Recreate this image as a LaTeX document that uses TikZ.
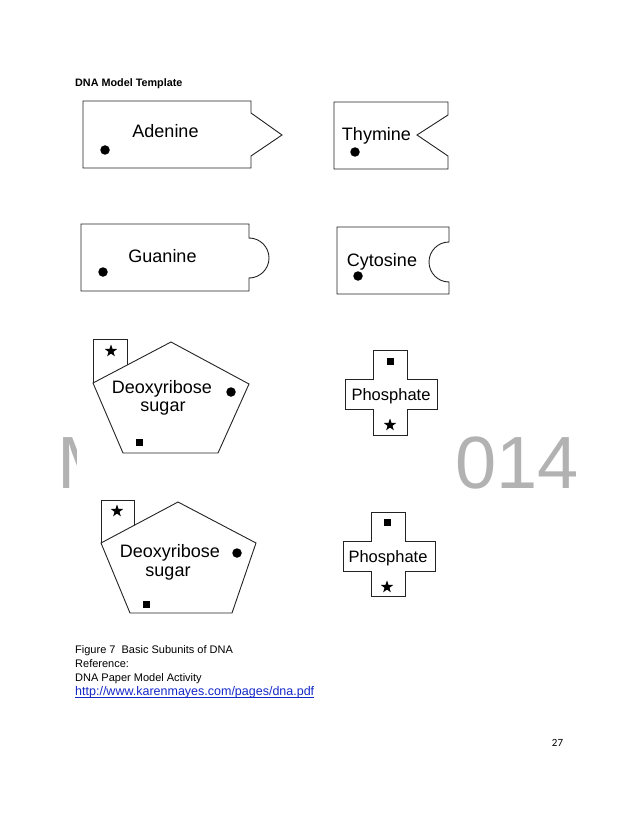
\documentclass[tikz,border=0pt]{standalone}
\usepackage{fontspec}
\setmainfont{Liberation Sans}
\newfontfamily\pagenumfont{Carlito}
\usepackage{tikz}
\usetikzlibrary{shapes.geometric}
\definecolor{outline}{RGB}{35,35,35}
\definecolor{linkblue}{RGB}{20,40,200}
\tikzset{
    template/.style={draw=outline, line width=0.9pt, line join=miter},
    base label/.style={font=\fontsize{18}{18}\selectfont, inner sep=0pt, anchor=base},
    small label/.style={font=\fontsize{16.5}{16.5}\selectfont, inner sep=0pt, anchor=base},
    caption line/.style={font=\fontsize{11}{13}\selectfont, inner sep=0pt, anchor=base west},
    watermark/.style={font=\fontsize{74}{74}\selectfont, text=black!30, inner sep=0pt, anchor=base west},
    dotmark/.style={circle, fill=black, inner sep=0pt, minimum size=9.5pt},
    boxmark/.style={rectangle, fill=black, inner sep=0pt, minimum size=7pt},
    starmark/.style={star, star points=5, star point ratio=2.5, fill=black, inner sep=0pt, minimum size=13pt}
}

\begin{document}
\begin{tikzpicture}[x=1pt, y=-1pt]
\path[use as bounding box, fill=white] (0,0) rectangle (638,826);
% watermark, mostly covered
\begin{scope}
\clip (0,400) rectangle (76,500);
\node[watermark] (wmM) at (57.5,488) {M};
\end{scope}
\node[watermark] (wm014) at (455,488) {014};
% heading
\node[font=\bfseries\fontsize{10.8}{13}\selectfont, inner sep=0pt, anchor=base west] (title) at (75,87) {DNA Model Template};
% adenine
\draw[template] (83,101) -- (251,101) -- (251,113) -- (282,135) -- (251,156) -- (251,168) -- (83,168) -- cycle;
\node[base label] (adenine) at (165.5,138) {Adenine};
\node[dotmark] (adenineDot) at (105,150) {};
% thymine
\draw[template] (334,102) -- (448,102) -- (448,115) -- (417,135) -- (448,156) -- (448,169) -- (334,169) -- cycle;
\node[base label] (thymine) at (376.5,141) {Thymine};
\node[dotmark] (thymineDot) at (355,152) {};
% guanine
\draw[template] (81,224) -- (249,224) -- (249,238) arc[start angle=90, end angle=-90, radius=20pt] -- (249,291) -- (81,291) -- cycle;
\node[base label] (guanine) at (162.5,262) {Guanine};
\node[dotmark] (guanineDot) at (103,272) {};
% cytosine
\draw[template] (337,227) -- (449,227) -- (449,242) arc[start angle=90, end angle=270, radius=20pt] -- (449,294) -- (337,294) -- cycle;
\node[base label] (cytosine) at (382,266) {Cytosine};
\node[dotmark] (cytosineDot) at (358,276) {};
% sugar 1
\draw[template] (171,342) -- (249,384) -- (218,453) -- (123,453) -- (93,383) -- cycle;
\draw[template] (93,383) -- (93,339) -- (127,339) -- (127,365);
\node[starmark] (sugarAStar) at (111,351) {};
\node[base label] (sugarAName) at (162,393.5) {Deoxyribose};
\node[base label] (sugarAWord) at (163,411.5) {sugar};
\node[dotmark] (sugarADot) at (231,392) {};
\node[boxmark] (sugarABox) at (139,442) {};
% sugar 2
\draw[template] (178,502) -- (256,543) -- (232,613) -- (130,613) -- (101,543) -- cycle;
\draw[template] (101,543) -- (101,500) -- (134,500) -- (134,525.4);
\node[starmark] (sugarBStar) at (117,511) {};
\node[base label] (sugarBName) at (170,557) {Deoxyribose};
\node[base label] (sugarBWord) at (168,576) {sugar};
\node[dotmark] (sugarBDot) at (237,553) {};
\node[boxmark] (sugarBBox) at (146,604) {};
% phosphate 1
\draw[template] (373,350) -- (407,350) -- (407,379) -- (437,379) -- (437,409) -- (407,409) -- (407,435) -- (373,435) -- (373,409) -- (345,409) -- (345,379) -- (373,379) -- cycle;
\node[boxmark] (phosABox) at (390,361) {};
\node[small label] (phosAName) at (391,400) {Phosphate};
\node[starmark] (phosAStar) at (390,425) {};
% phosphate 2
\draw[template] (371,512) -- (405,512) -- (405,541) -- (435,541) -- (435,571) -- (405,571) -- (405,596) -- (371,596) -- (371,571) -- (343,571) -- (343,541) -- (371,541) -- cycle;
\node[boxmark] (phosBBox) at (387,522) {};
\node[small label] (phosBName) at (388,562) {Phosphate};
\node[starmark] (phosBStar) at (387,587) {};
% caption and reference
\node[caption line] (figcap) at (75,653) {Figure 7\ \ Basic Subunits of DNA};
\node[caption line] (refhead) at (75,667) {Reference:};
\node[caption line] (refname) at (75,681) {DNA Paper Model Activity};
\node[caption line, font=\fontsize{12.5}{14}\selectfont, text=linkblue] (reflink) at (75,695) {http://www.karenmayes.com/pages/dna.pdf};
\draw[linkblue, line width=0.7pt] ([yshift=-2pt]reflink.base west) -- ([yshift=-2pt]reflink.base east);
% page number
\node[font=\pagenumfont\fontsize{11}{13}\selectfont, inner sep=0pt, anchor=base] (pagenum) at (557.5,746) {27};
\end{tikzpicture}
\end{document}
